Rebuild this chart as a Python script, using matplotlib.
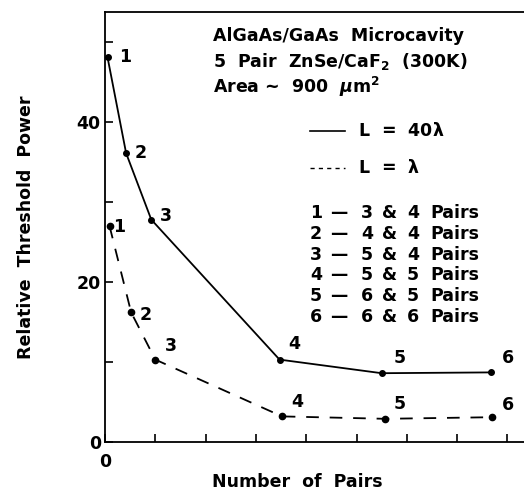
import matplotlib
matplotlib.use("Agg")
import matplotlib.pyplot as plt
from matplotlib.lines import Line2D

plt.rcParams['font.family'] = ['DejaVu Sans']
plt.rcParams['font.weight'] = 'bold'
plt.rcParams['axes.labelweight'] = 'bold'
plt.rcParams['mathtext.fontset'] = 'dejavusans'
plt.rcParams['mathtext.default'] = 'bf'

# Data (x in arbitrary axis units, y = relative threshold power)
point_ids = ["1", "2", "3", "4", "5", "6"]
x_long = [0.05, 0.42, 0.92, 3.47, 5.50, 7.67]
y_long = [48.1, 36.1, 27.8, 10.3, 8.6, 8.7]
x_short = [0.09, 0.52, 1.00, 3.52, 5.57, 7.70]
y_short = [27.0, 16.2, 10.3, 3.2, 2.9, 3.1]

long_offsets = [(18, 0), (15, 0), (15, 4), (15, 16), (18, 15), (17, 14)]
short_offsets = [(10, -1), (15, -3), (16, 14), (15, 14), (15, 15), (16, 12)]

pair_rows = [("1", "3", "4"), ("2", "4", "4"), ("3", "5", "4"),
             ("4", "5", "5"), ("5", "6", "5"), ("6", "6", "6")]
title_lines = ["AlGaAs/GaAs  Microcavity",
               r"5  Pair  ZnSe/CaF$_\mathbf{2}$  (300K)",
               r"Area ~  900  $\mathit{\mu}$m$^\mathbf{2}$"]

W, H = 524, 493
fig = plt.figure(figsize=(W / 100, H / 100), dpi=100)
ax = fig.add_axes([105 / W, 1 - 442 / H, 419 / W, 430 / H])

ax.plot(x_long, y_long, '-', color='black', lw=1.3, marker='o', ms=4)
ax.plot(x_short, y_short, color='black', lw=1.3, ls=(0, (7, 6)), marker='o', ms=4.5)

fs = 12.5
for xs, ys, offs in ((x_long, y_long, long_offsets), (x_short, y_short, short_offsets)):
    for lab, x, y, (dx, dy) in zip(point_ids, xs, ys, offs):
        ax.annotate(lab, (x, y), xytext=(dx, dy), textcoords='offset pixels',
                    ha='center', va='center', fontsize=fs)

ax.set_xlim(0, 419 / 50.3)
ax.set_ylim(0, 430 / 8)
ax.set_xticks(range(0, 9))
ax.set_xticklabels(["0"] + [""] * 8)
ax.set_yticks([0, 20, 40])
ax.set_yticks([10, 30, 50], minor=True)
ax.tick_params(which='both', direction='in', length=6, width=1.2, labelsize=fs)
ax.tick_params(axis='x', pad=8)
ax.tick_params(axis='y', pad=3)
ax.spines['right'].set_visible(False)
for s in ('left', 'bottom', 'top'):
    ax.spines[s].set_linewidth(1.3)

ax.set_ylabel("Relative  Threshold  Power", fontsize=fs)
ax.yaxis.set_label_coords(-70 / 419, 0.50)
fig.text(297 / W, 1 - 482 / H, "Number  of  Pairs", ha='center', va='center', fontsize=fs)

# annotation block
def fx(px):
    return px / W
def fy(py):
    return 1 - py / H

for i, line in enumerate(title_lines):
    fig.text(fx(213), fy(36 + 25.5 * i), line, ha='left', va='center', fontsize=fs)

fig.add_artist(Line2D([fx(310), fx(345)], [fy(131), fy(131)], color='black', lw=1.2))
fig.add_artist(Line2D([fx(310), fx(345)], [fy(168), fy(168)], color='black', lw=1.0, ls=(0, (3, 3))))
fig.text(fx(358), fy(131), r"L  =  40$\lambda$", ha='left', va='center', fontsize=fs)
fig.text(fx(358), fy(168), r"L  =  $\lambda$", ha='left', va='center', fontsize=fs)

for i, (a, b, c) in enumerate(pair_rows):
    yy = fy(213 + 20.8 * i)
    fig.text(fx(316), yy, a, ha='center', va='center', fontsize=fs)
    fig.text(fx(339), yy, "\u2014", ha='center', va='center', fontsize=fs)
    fig.text(fx(367), yy, b, ha='center', va='center', fontsize=fs)
    fig.text(fx(390), yy, "&", ha='center', va='center', fontsize=fs)
    fig.text(fx(413), yy, c, ha='center', va='center', fontsize=fs)
    fig.text(fx(430), yy, "Pairs", ha='left', va='center', fontsize=fs)

fig.savefig("out.png", dpi=100)
